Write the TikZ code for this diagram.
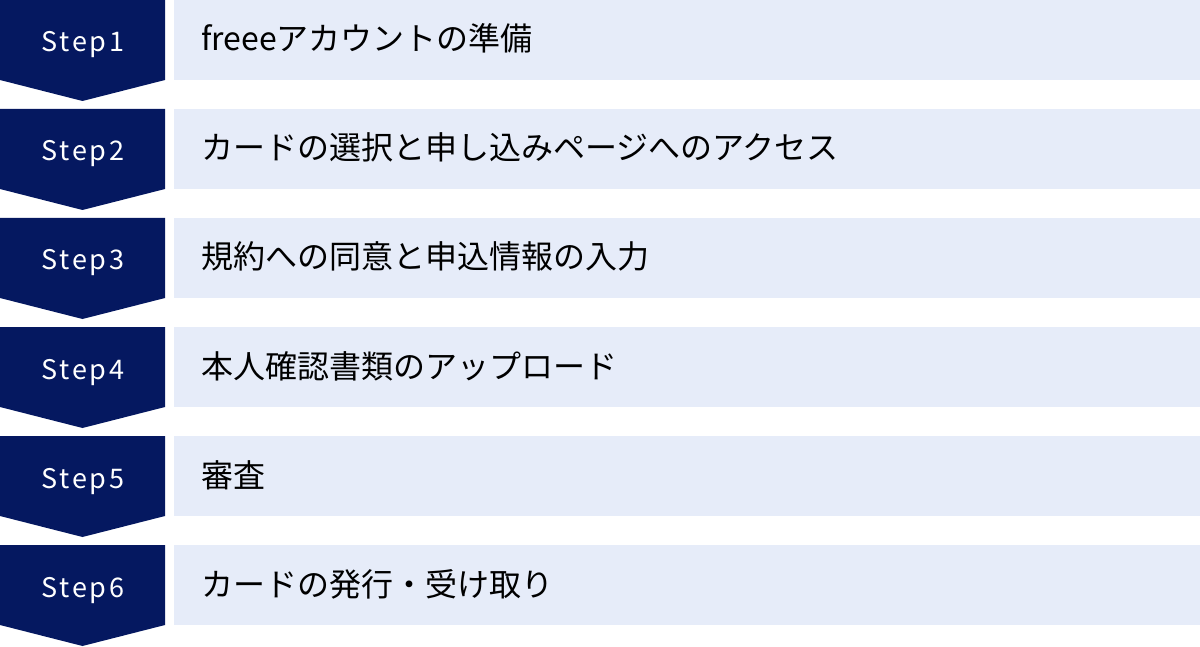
\documentclass[tikz,border=0pt]{standalone}
\usepackage{fontspec}
\setmainfont{Noto Sans CJK JP}
\newfontfamily\steplabelfont[LetterSpace=10]{Noto Sans CJK JP}
\definecolor{navy}{RGB}{5,24,96}
\definecolor{paleblue}{RGB}{230,236,249}
\begin{document}
\begin{tikzpicture}[x=1pt,y=-1pt,
    stepbox/.style={fill=paleblue,minimum width=1026pt,minimum height=80pt,inner sep=0pt,anchor=north west},
    steplabel/.style={text=white,font=\steplabelfont\fontsize{27}{32}\selectfont,anchor=base,inner sep=0pt},
    stepname/.style={text=black,font=\fontsize{32}{38}\selectfont,anchor=base west,inner sep=0pt}]
    \useasboundingbox (0,0) rectangle (1200,647);
    \foreach \i/\txt in {1/freeeアカウントの準備,
                         2/カードの選択と申し込みページへのアクセス,
                         3/規約への同意と申込情報の入力,
                         4/本人確認書類のアップロード,
                         5/審査,
                         6/カードの発行・受け取り} {
        \pgfmathsetmacro\rowtop{(\i-1)*109}
        \fill[navy] (0,\rowtop) -- ++(165,0) -- ++(0,80) -- ++(-82.5,21) -- ++(-82.5,-21) -- cycle;
        \node[stepbox] (box\i) at (174,\rowtop) {};
        \node[steplabel] (step\i) at (83,\rowtop+52) {Step\i};
        \node[stepname] (name\i) at (201,\rowtop+51) {\txt};
    }
\end{tikzpicture}
\end{document}
